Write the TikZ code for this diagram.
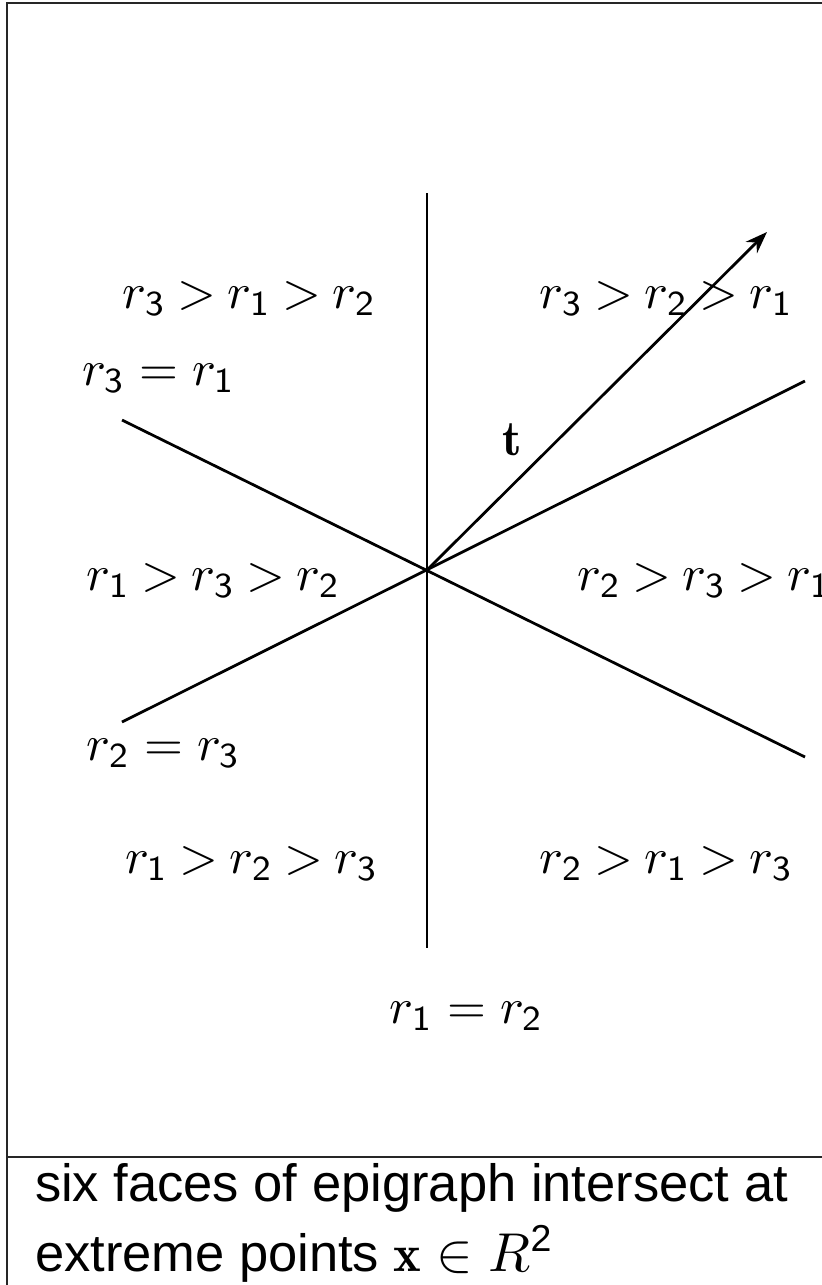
\documentclass[tikz,border=0pt]{standalone}
\usepackage{fontspec}
\newfontfamily\capfont{Liberation Sans}
\usetikzlibrary{arrows.meta}
\tikzset{
  lbl/.style={anchor=base west, inner sep=0pt, outer sep=0pt, font=\fontsize{10}{12}\selectfont},
  captxt/.style={anchor=base west, inner sep=0pt, outer sep=0pt, font=\capfont\fontsize{10.5}{12.6}\selectfont},
  frameline/.style={line width=0.45pt, draw=black!85},
  divline/.style={line width=0.55pt, draw=black},
}
\newcommand{\sd}[1]{\mathsf{#1}}
\newcommand{\mygt}{\mathrel{\mkern-1mu>\mkern-1mu}}
\begin{document}
\begin{tikzpicture}[x=0.2pt,y=-0.2pt]
\useasboundingbox (0,0) rectangle (822,1285);
\clip (0,0) rectangle (822,1285);
% frame
\coordinate (FTL) at (7,3);
\coordinate (FTR) at (830,3);
\coordinate (FBL) at (7,1290);
\coordinate (DL) at (7,1157);
\coordinate (DR) at (830,1157);
\draw[frameline] (FTR) -- (FTL) -- (FBL);
\draw[frameline] (DL) -- (DR);
% diagram lines
\coordinate (O) at (427,570);
\coordinate (Vt) at (427,193);
\coordinate (Vb) at (427,948);
\coordinate (Aa) at (122,420);
\coordinate (Ab) at (805,757);
\coordinate (Ba) at (122,722);
\coordinate (Bb) at (805,381);
\coordinate (T) at (767,232);
\draw[divline] (Vt) -- (Vb);
\draw[divline] (Aa) -- (Ab);
\draw[divline] (Ba) -- (Bb);
\draw[divline, -{Stealth[length=4.4pt, width=3.2pt]}] (O) -- (T);
% labels
\node[lbl] (l1) at (123,308) {$r_{\sd3} \mygt r_{\sd1} \mygt r_{\sd2}$};
\node[lbl] (l2) at (540,308) {$r_{\sd3} \mygt r_{\sd2} \mygt r_{\sd1}$};
\node[lbl] (e1) at (82,385) {$r_{\sd3} = r_{\sd1}$};
\node[lbl] (tl) at (502,455) {$\mathbf{t}$};
\node[lbl] (l3) at (87,590) {$r_{\sd1} \mygt r_{\sd3} \mygt r_{\sd2}$};
\node[lbl] (l4) at (578,590) {$r_{\sd2} \mygt r_{\sd3} \mygt r_{\sd1}$};
\node[lbl] (e2) at (87,760) {$r_{\sd2} = r_{\sd3}$};
\node[lbl] (l5) at (125,873) {$r_{\sd1} \mygt r_{\sd2} \mygt r_{\sd3}$};
\node[lbl] (l6) at (540,873) {$r_{\sd2} \mygt r_{\sd1} \mygt r_{\sd3}$};
\node[lbl] (e3) at (390,1023) {$r_{\sd1} = r_{\sd2}$};
% caption
\node[captxt] (c1) at (35,1201) {six faces of epigraph intersect at};
\node[captxt] (c2) at (35,1271) {extreme points $\mathbf{x}\in R^{\hbox{\capfont\fontsize{7.5}{8}\selectfont 2}}$};
\end{tikzpicture}
\end{document}
